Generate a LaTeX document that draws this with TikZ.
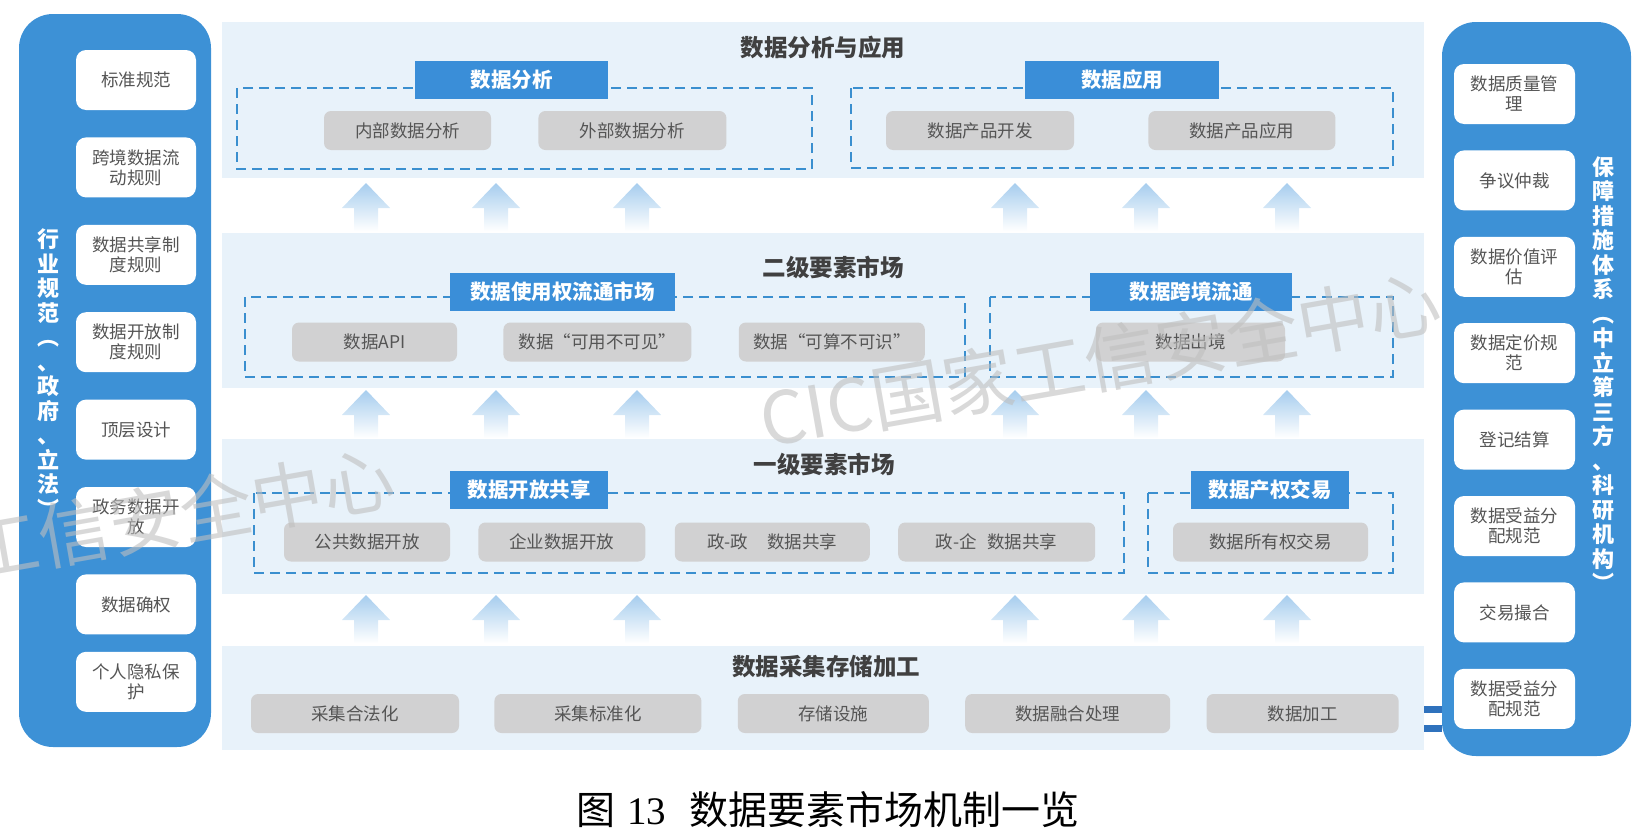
\documentclass[tikz,border=0pt]{standalone}
\usepackage{xcolor}
\usepackage{fontspec}
\usepackage{tikz}
\usetikzlibrary{positioning}

\newfontfamily\cjk{Noto Sans CJK SC}
\newfontfamily\timesfont{Liberation Serif}

\definecolor{panelblue}{HTML}{3D91D6}
\definecolor{headblue}{HTML}{3A8ED8}
\definecolor{bandbg}{HTML}{E8F2FA}
\definecolor{boxgray}{HTML}{D1D1D2}
\definecolor{txtgray}{HTML}{555555}
\definecolor{dashblue}{HTML}{3A8FCF}
\definecolor{arrblue}{HTML}{A6CDEE}
\definecolor{titlegray}{HTML}{404040}
\definecolor{barblue}{HTML}{2F72BD}

\tikzset{
    bandbox/.style={fill=bandbg, minimum width=1202pt, inner sep=0pt},
    sidepanel/.style={fill=panelblue, rounded corners=34pt, inner sep=0pt},
    rulebox/.style={fill=white, rounded corners=10pt, minimum width=120pt, minimum height=60pt, inner sep=0pt, align=center, text=txtgray, font=\cjk\fontsize{17.5}{20}\selectfont},
    itembox/.style={fill=boxgray, rounded corners=7pt, minimum height=39pt, inner sep=0pt, text=txtgray, font=\cjk\fontsize{17.5}{20}\selectfont},
    headbox/.style={fill=headblue, minimum height=38pt, inner sep=0pt, text=white, font=\cjk\bfseries\fontsize{20.5}{24}\selectfont},
    lvltitle/.style={text=titlegray, font=\cjk\bfseries\fontsize{23.5}{26}\selectfont},
    grpframe/.style={draw=dashblue, line width=2.4pt, dash pattern=on 10pt off 6pt},
    uparr/.style={top color=arrblue, middle color=arrblue!80!white, bottom color=white},
    vtext/.style={text=white, align=center, font=\cjk\bfseries\fontsize{22}{24.5}\selectfont},
    linkbar/.style={draw=barblue, line width=7pt},
    wmark/.style={rotate=10, text=black!25, opacity=0.6, font=\cjk\fontsize{72}{72}\selectfont},
}

% one block arrow: x, tip y
\newcommand{\blockarr}[2]{\shade[uparr] (#1-12,#2+48) -- (#1-12,#2+25) -- (#1-24,#2+25) -- (#1,#2) -- (#1+24,#2+25) -- (#1+12,#2+25) -- (#1+12,#2+48) -- cycle;}
\newcommand{\arrrow}[1]{\blockarr{366}{#1}\blockarr{496}{#1}\blockarr{637}{#1}\blockarr{1015}{#1}\blockarr{1146}{#1}\blockarr{1287}{#1}}

\begin{document}
\begin{tikzpicture}[x=1pt, y=-1pt]
    \useasboundingbox (0,0) rectangle (1652,838);

    % levels
    \node[bandbox, minimum height=156pt] (B1) at (823,100) {};
    \node[bandbox, minimum height=155pt] (B2) at (823,310.5) {};
    \node[bandbox, minimum height=155pt] (B3) at (823,516.5) {};
    \node[bandbox, minimum height=104pt] (B4) at (823,698) {};
    \node[lvltitle] (T1) at (823,48) {数据分析与应用};
    \node[lvltitle] (T2) at (833,267) {二级要素市场};
    \node[lvltitle] (T3) at (824,464) {一级要素市场};
    \node[lvltitle] (T4) at (826,667) {数据采集存储加工};

    \arrrow{183}
    \arrrow{390}
    \arrrow{595}

    \draw[grpframe] (237,88) rectangle (812,169);
    \draw[grpframe] (851,88) rectangle (1393,168);
    \draw[grpframe] (245,297) rectangle (965,377);
    \draw[grpframe] (990,297) rectangle (1393,377);
    \draw[grpframe] (254,493) rectangle (1124,573);
    \draw[grpframe] (1148,493) rectangle (1393,573);

    \node[headbox, minimum width=193pt] (H1) at (511.5,80) {数据分析};
    \node[headbox, minimum width=194pt] (H2) at (1122,80) {数据应用};
    \node[headbox, minimum width=225pt] (H3) at (562.5,292) {数据使用权流通市场};
    \node[headbox, minimum width=202pt] (H4) at (1191,292) {数据跨境流通};
    \node[headbox, minimum width=158pt] (H5) at (529,490) {数据开放共享};
    \node[headbox, minimum width=158pt] (H6) at (1270,490) {数据产权交易};

    \node[itembox, minimum width=167pt] (I11) at (407.5,130.5) {内部数据分析};
    \node[itembox, minimum width=188pt] (I12) [right=47pt of I11] {外部数据分析};
    \node[itembox, minimum width=188pt] (I13) at (980,130.5) {数据产品开发};
    \node[itembox, minimum width=187pt] (I14) [right=74pt of I13] {数据产品应用};

    \node[itembox, minimum width=165pt] (I21) at (374.5,342) {数据API};
    \node[itembox, minimum width=188pt] (I22) [right=46pt of I21] {数据“可用不可见”};
    \node[itembox, minimum width=186pt] (I23) [right=47pt of I22] {数据“可算不可识”};
    \node[itembox, minimum width=189pt] (I24) at (1190.5,342) {数据出境};

    \node[itembox, minimum width=166pt] (I31) at (367,542) {公共数据开放};
    \node[itembox, minimum width=167pt] (I32) [right=28pt of I31] {企业数据开放};
    \node[itembox, minimum width=195pt] (I33) [right=29pt of I32] {政-政\hspace{1.1em}数据共享};
    \node[itembox, minimum width=197pt] (I34) [right=28pt of I33] {政-企\hspace{0.6em}数据共享};
    \node[itembox, minimum width=195pt] (I35) at (1270.5,542) {数据所有权交易};

    \node[itembox, minimum width=208pt] (I41) at (355,713.5) {采集合法化};
    \node[itembox, minimum width=207pt] (I42) [right=35pt of I41] {采集标准化};
    \node[itembox, minimum width=191pt] (I43) [right=36pt of I42] {存储设施};
    \node[itembox, minimum width=205pt] (I44) [right=36pt of I43] {数据融合处理};
    \node[itembox, minimum width=192pt] (I45) [right=36pt of I44] {数据加工};

    % side panels
    \node[sidepanel, minimum width=192pt, minimum height=733pt] (P1) at (115,380.5) {};
    \node[sidepanel, minimum width=189pt, minimum height=734pt] (P2) at (1536.5,389) {};
    \node[vtext] (V1) at (48,373) {行\\业\\规\\范\\︵\\、\\政\\府\\、\\立\\法\\︶};
    \node[vtext] (V2) at (1603,374) {保\\障\\措\\施\\体\\系\\︵\\中\\立\\第\\三\\方\\、\\科\\研\\机\\构\\︶};

    \node[rulebox] (L1) at (136,80) {标准规范};
    \node[rulebox] (L2) [below=27pt of L1] {跨境数据流\\动规则};
    \node[rulebox] (L3) [below=27pt of L2] {数据共享制\\度规则};
    \node[rulebox] (L4) [below=27pt of L3] {数据开放制\\度规则};
    \node[rulebox] (L5) [below=27pt of L4] {顶层设计};
    \node[rulebox] (L6) [below=27pt of L5] {政务数据开\\放};
    \node[rulebox] (L7) [below=27pt of L6] {数据确权};
    \node[rulebox] (L8) [below=17pt of L7] {个人隐私保\\护};

    \node[rulebox, minimum width=121pt] (R1) at (1514.5,94) {数据质量管\\理};
    \node[rulebox, minimum width=121pt] (R2) [below=26pt of R1] {争议仲裁};
    \node[rulebox, minimum width=121pt] (R3) [below=26pt of R2] {数据价值评\\估};
    \node[rulebox, minimum width=121pt] (R4) [below=26pt of R3] {数据定价规\\范};
    \node[rulebox, minimum width=121pt] (R5) [below=26pt of R4] {登记结算};
    \node[rulebox, minimum width=121pt] (R6) [below=26pt of R5] {数据受益分\\配规范};
    \node[rulebox, minimum width=121pt] (R7) [below=26pt of R6] {交易撮合};
    \node[rulebox, minimum width=121pt] (R8) [below=26pt of R7] {数据受益分\\配规范};

    \coordinate (k1) at (0,709.5);
    \coordinate (k2) at (0,728.5);
    \draw[linkbar] (B4.east |- k1) -- (P2.west |- k1);
    \draw[linkbar] (B4.east |- k2) -- (P2.west |- k2);

    \begin{scope}
        \clip (0,0) rectangle (1652,838);
        \node[wmark] (W1) at (1100,360) {CIC国家工信安全中心};
        \node[wmark] (W2) at (54,536) {CIC国家工信安全中心};
    \end{scope}

    \node[font=\cjk\fontsize{39}{44}\selectfont] (C1) at (828,810) {图\hspace{0.3em}{\timesfont 13}\hspace{0.6em}数据要素市场机制一览};
\end{tikzpicture}
\end{document}
